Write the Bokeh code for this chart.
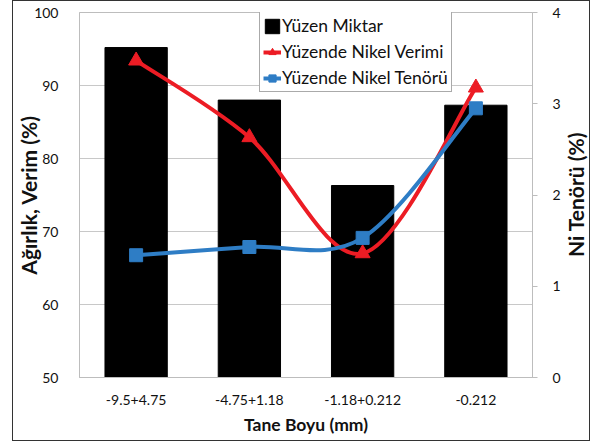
import math
from bokeh.plotting import figure
from bokeh.models import Range1d, LinearAxis, FixedTicker, Legend, LegendItem, Label
from bokeh.embed import file_html
from bokeh.resources import INLINE

categories = ["-9.5+4.75", "-4.75+1.18", "-1.18+0.212", "-0.212"]
yuzen_miktar = [95.2, 88.0, 76.3, 87.3]
nikel_verimi = [93.4, 82.9, 67.0, 89.7]
nikel_tenoru = [1.34, 1.43, 1.53, 2.95]

FONT = "Lato"
RED = "#EC1C24"
BLUE = "#2E7DC5"
xs = list(range(len(categories)))

p = figure(width=578, height=441, output_backend="svg", toolbar_location=None,
           x_range=Range1d(-0.5, len(categories) - 0.5), y_range=Range1d(50, 100),
           min_border_left=63, min_border_right=59, min_border_top=11, min_border_bottom=65)
p.extra_y_ranges = {"ni": Range1d(0, 4)}
p.styles = {"border": "1px solid #333333", "margin-left": "12px", "margin-top": "0px"}
p.outline_line_color = "#BDBDBD"
p.outline_line_width = 1

# grid
p.xgrid.grid_line_color = None
p.ygrid.grid_line_color = "#C8C8C8"
p.ygrid.ticker = FixedTicker(ticks=[50, 60, 70, 80, 90, 100])

# bars
bars = p.vbar(x=xs, top=yuzen_miktar, bottom=50, width=0.55, fill_color="black", line_color="black")

def smooth(x, y):
    n = len(x)
    X0, Y0, X1, Y1, CX0, CY0, CX1, CY1 = [], [], [], [], [], [], [], []
    for i in range(n - 1):
        im = max(i - 1, 0)
        ip = min(i + 2, n - 1)
        X0.append(x[i]); Y0.append(y[i]); X1.append(x[i + 1]); Y1.append(y[i + 1])
        CX0.append(x[i] + (x[i + 1] - x[im]) / 6); CY0.append(y[i] + (y[i + 1] - y[im]) / 6)
        CX1.append(x[i + 1] - (x[ip] - x[i]) / 6); CY1.append(y[i + 1] - (y[ip] - y[i]) / 6)
    return dict(x0=X0, y0=Y0, x1=X1, y1=Y1, cx0=CX0, cy0=CY0, cx1=CX1, cy1=CY1)

# red series (left axis)
red_curve = p.bezier(**smooth(xs, nikel_verimi), line_color=RED, line_width=4)
red_pts = p.scatter(x=xs, y=nikel_verimi, marker="triangle", size=15, fill_color=RED, line_color=RED)

# blue series (right axis)
blue_curve = p.bezier(**smooth(xs, nikel_tenoru), line_color=BLUE, line_width=4, y_range_name="ni")
blue_pts = p.scatter(x=xs, y=nikel_tenoru, marker="square", size=13, fill_color=BLUE, line_color=BLUE,
                     y_range_name="ni")

# axes
p.xaxis.ticker = FixedTicker(ticks=xs)
p.xaxis.major_label_overrides = {i: c for i, c in enumerate(categories)}
p.xaxis.axis_label = "Tane Boyu (mm)"
p.yaxis.ticker = FixedTicker(ticks=[50, 60, 70, 80, 90, 100])
p.yaxis.axis_label = "Ağırlık, Verim (%)"

right = LinearAxis(y_range_name="ni", ticker=FixedTicker(ticks=[0, 1, 2, 3, 4]))
p.add_layout(right, "right")

for ax in [p.xaxis[0], p.yaxis[0], right]:
    ax.axis_line_color = "#BDBDBD"
    ax.major_tick_line_color = None
    ax.minor_tick_line_color = None
    ax.major_label_text_font = FONT
    ax.major_label_text_font_size = "14px"
    ax.major_label_text_color = "#111111"
    ax.axis_label_text_font = FONT
    ax.axis_label_text_font_style = "bold"
    ax.axis_label_text_color = "#111111"

p.xaxis.axis_label_text_font_size = "17.5px"
p.yaxis.axis_label_text_font_size = "21px"

right.major_tick_line_color = "#BDBDBD"
right.major_tick_out = 5
right.major_tick_in = 0
right.major_label_standoff = 6

# right axis title, reading bottom-to-top as in the reference (placed in the right side panel)
right_title = Label(x=12, y=183, x_units="screen", y_units="screen", text="Ni Tenörü (%)",
                    angle=math.pi / 2, text_align="center", text_baseline="middle",
                    text_font=FONT, text_font_style="bold", text_font_size="21px",
                    text_color="#111111")
p.add_layout(right_title, "right")

p.xaxis.major_label_standoff = 11
p.xaxis.axis_label_standoff = 6
p.yaxis.major_label_standoff = 15
p.yaxis.axis_label_standoff = -10

legend = Legend(items=[
    LegendItem(label="Yüzen Miktar", renderers=[bars]),
    LegendItem(label="Yüzende Nikel Verimi", renderers=[red_curve, red_pts]),
    LegendItem(label="Yüzende Nikel Tenörü", renderers=[blue_curve, blue_pts]),
], location=(180, 285))
legend.label_text_font = FONT
legend.label_text_font_size = "17.5px"
legend.label_text_color = "#111111"
legend.glyph_width = 18
legend.glyph_height = 18
legend.label_standoff = 1
legend.spacing = 5
legend.padding = 3
legend.margin = 0
legend.border_line_color = "#555555"
legend.border_line_width = 1
legend.background_fill_alpha = 1
p.add_layout(legend, "center")

open("out.html", "w").write(file_html(p, INLINE))
